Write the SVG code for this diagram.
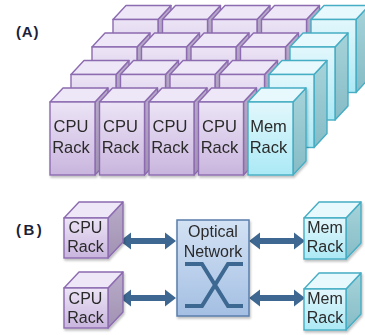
<svg xmlns="http://www.w3.org/2000/svg" xmlns:xlink="http://www.w3.org/1999/xlink" width="365" height="335" viewBox="0 0 365 335">
  <defs>
    <linearGradient id="cpuFront" x1="0" y1="0" x2="0" y2="1">
      <stop offset="0" stop-color="#ece4f6"/>
      <stop offset="1" stop-color="#c9b5de"/>
    </linearGradient>
    <linearGradient id="cpuSide" x1="0" y1="0" x2="0" y2="1">
      <stop offset="0" stop-color="#b9abc9"/>
      <stop offset="1" stop-color="#a192b3"/>
    </linearGradient>
    <linearGradient id="memFront" x1="0" y1="0" x2="0" y2="1">
      <stop offset="0" stop-color="#e2f7fc"/>
      <stop offset="1" stop-color="#abe9f5"/>
    </linearGradient>
    <linearGradient id="memSide" x1="0" y1="0" x2="0" y2="1">
      <stop offset="0" stop-color="#a6d3da"/>
      <stop offset="1" stop-color="#86bcc6"/>
    </linearGradient>
    <linearGradient id="netFill" x1="0" y1="0" x2="0" y2="1">
      <stop offset="0" stop-color="#d3e2f4"/>
      <stop offset="1" stop-color="#a4bfe3"/>
    </linearGradient>
    <filter id="shadow" x="-20%" y="-20%" width="150%" height="150%">
      <feDropShadow dx="1" dy="2" stdDeviation="1.2" flood-color="#000" flood-opacity="0.25"/>
    </filter>

    <!-- tall rack, panel (A): front 45x73, depth 13/14 -->
    <g id="cpuTall">
      <polygon points="45,0 58,-14 58,59 45,73" fill="url(#cpuSide)" stroke="#8c6bb0" stroke-width="1.4" stroke-linejoin="round"/>
      <polygon points="0,0 13,-14 58,-14 45,0" fill="#eee7f7" stroke="#8c6bb0" stroke-width="1.4" stroke-linejoin="round"/>
      <rect x="0" y="0" width="45" height="73" fill="url(#cpuFront)" stroke="#8c6bb0" stroke-width="1.4"/>
    </g>
    <g id="memTall">
      <polygon points="45,0 58,-14 58,59 45,73" fill="url(#memSide)" stroke="#45adc4" stroke-width="1.4" stroke-linejoin="round"/>
      <polygon points="0,0 13,-14 58,-14 45,0" fill="#e8f9fd" stroke="#45adc4" stroke-width="1.4" stroke-linejoin="round"/>
      <rect x="0" y="0" width="45" height="73" fill="url(#memFront)" stroke="#45adc4" stroke-width="1.4"/>
    </g>

    <!-- cube rack, panel (B): front 44x40, depth 15/16 -->
    <g id="cpuCube">
      <polygon points="44,0 59,-16 59,24 44,40" fill="url(#cpuSide)" stroke="#8c6bb0" stroke-width="1.4" stroke-linejoin="round"/>
      <polygon points="0,0 15,-16 59,-16 44,0" fill="#eee7f7" stroke="#8c6bb0" stroke-width="1.4" stroke-linejoin="round"/>
      <rect x="0" y="0" width="44" height="40" fill="url(#cpuFront)" stroke="#8c6bb0" stroke-width="1.4"/>
    </g>
    <g id="memCube">
      <polygon points="42,0 57,-16 57,25 42,41" fill="url(#memSide)" stroke="#45adc4" stroke-width="1.4" stroke-linejoin="round"/>
      <polygon points="0,0 15,-16 57,-16 42,0" fill="#e8f9fd" stroke="#45adc4" stroke-width="1.4" stroke-linejoin="round"/>
      <rect x="0" y="0" width="42" height="41" fill="url(#memFront)" stroke="#45adc4" stroke-width="1.4"/>
    </g>

    <!-- double-headed arrow, 56 long, centred on y=0 -->
    <path id="dblArrow" d="M0,0 L11,-8.5 L11,-3 L45,-3 L45,-8.5 L56,0 L45,8.5 L45,3 L11,3 L11,8.5 Z" fill="#3e6891"/>
  </defs>

  <style>
    .lbl { font-family: "Liberation Sans", Arial, sans-serif; font-size: 16.5px; fill: #2b2b2b; text-anchor: middle; }
    .lblB { font-family: "Liberation Sans", Arial, sans-serif; font-size: 16px; fill: #2b2b2b; text-anchor: middle; }
    .tag { font-family: "Liberation Sans", Arial, sans-serif; font-size: 15px; font-weight: bold; fill: #1c1f3a; }
  </style>

  <!-- Panel (A): 4 rows x 5 columns of racks, back row first -->
  <text class="tag" x="16" y="37" letter-spacing="0.8">(A)</text>

  <g id="rowA4">
    <g id="a4c1"><use xlink:href="#cpuTall" x="113" y="19.5"/></g>
    <g id="a4c2"><use xlink:href="#cpuTall" x="162.5" y="19.5"/></g>
    <g id="a4c3"><use xlink:href="#cpuTall" x="212" y="19.5"/></g>
    <g id="a4c4"><use xlink:href="#cpuTall" x="261.5" y="19.5"/></g>
    <g id="a4m"><use xlink:href="#memTall" x="311" y="19.5"/></g>
  </g>
  <g id="rowA3">
    <g id="a3c1"><use xlink:href="#cpuTall" x="92" y="47"/></g>
    <g id="a3c2"><use xlink:href="#cpuTall" x="141.5" y="47"/></g>
    <g id="a3c3"><use xlink:href="#cpuTall" x="191" y="47"/></g>
    <g id="a3c4"><use xlink:href="#cpuTall" x="240.5" y="47"/></g>
    <g id="a3m"><use xlink:href="#memTall" x="290" y="47"/></g>
  </g>
  <g id="rowA2">
    <g id="a2c1"><use xlink:href="#cpuTall" x="71" y="74.5"/></g>
    <g id="a2c2"><use xlink:href="#cpuTall" x="120.5" y="74.5"/></g>
    <g id="a2c3"><use xlink:href="#cpuTall" x="170" y="74.5"/></g>
    <g id="a2c4"><use xlink:href="#cpuTall" x="219.5" y="74.5"/></g>
    <g id="a2m"><use xlink:href="#memTall" x="269" y="74.5"/></g>
  </g>
  <g id="rowA1" filter="url(#shadow)">
    <g id="a1c1">
      <use xlink:href="#cpuTall" x="50" y="102"/>
      <text class="lbl" x="71" y="132">CPU</text>
      <text class="lbl" x="71" y="153">Rack</text>
    </g>
    <g id="a1c2">
      <use xlink:href="#cpuTall" x="99.5" y="102"/>
      <text class="lbl" x="120.5" y="132">CPU</text>
      <text class="lbl" x="120.5" y="153">Rack</text>
    </g>
    <g id="a1c3">
      <use xlink:href="#cpuTall" x="149" y="102"/>
      <text class="lbl" x="170" y="132">CPU</text>
      <text class="lbl" x="170" y="153">Rack</text>
    </g>
    <g id="a1c4">
      <use xlink:href="#cpuTall" x="198.5" y="102"/>
      <text class="lbl" x="219.5" y="132">CPU</text>
      <text class="lbl" x="219.5" y="153">Rack</text>
    </g>
    <g id="a1m">
      <use xlink:href="#memTall" x="248" y="102"/>
      <text class="lbl" x="268.5" y="132">Mem</text>
      <text class="lbl" x="268.5" y="153">Rack</text>
    </g>
  </g>

  <!-- Panel (B): racks joined through an optical network -->
  <text class="tag" x="16" y="235" letter-spacing="2.5">(B)</text>

  <g id="connectors">
    <use xlink:href="#dblArrow" x="120" y="241"/>
    <use xlink:href="#dblArrow" x="120" y="298"/>
    <use xlink:href="#dblArrow" x="249" y="241"/>
    <use xlink:href="#dblArrow" x="249" y="298"/>
  </g>

  <g id="cpuB1" filter="url(#shadow)">
    <use xlink:href="#cpuCube" x="64" y="218"/>
    <text class="lblB" x="85.5" y="233">CPU</text>
    <text class="lblB" x="85.5" y="252">Rack</text>
  </g>
  <g id="cpuB2" filter="url(#shadow)">
    <use xlink:href="#cpuCube" x="64" y="288"/>
    <text class="lblB" x="85.5" y="304">CPU</text>
    <text class="lblB" x="85.5" y="323">Rack</text>
  </g>

  <g id="optical" filter="url(#shadow)">
    <rect x="177" y="220" width="72" height="96" fill="url(#netFill)" stroke="#5a7eab" stroke-width="1.5"/>
    <text class="lblB" x="213" y="237">Optical</text>
    <text class="lblB" x="213" y="257">Network</text>
    <path d="M185,264 H202 L228,306 H243 M243,264 H228 L202,306 H185" fill="none" stroke="#3e6891" stroke-width="4" stroke-linejoin="miter"/>
  </g>

  <g id="memB1" filter="url(#shadow)">
    <use xlink:href="#memCube" x="304" y="218"/>
    <text class="lblB" x="325" y="233">Mem</text>
    <text class="lblB" x="325" y="252">Rack</text>
  </g>
  <g id="memB2" filter="url(#shadow)">
    <use xlink:href="#memCube" x="304" y="289"/>
    <text class="lblB" x="325" y="304">Mem</text>
    <text class="lblB" x="325" y="323">Rack</text>
  </g>
</svg>
